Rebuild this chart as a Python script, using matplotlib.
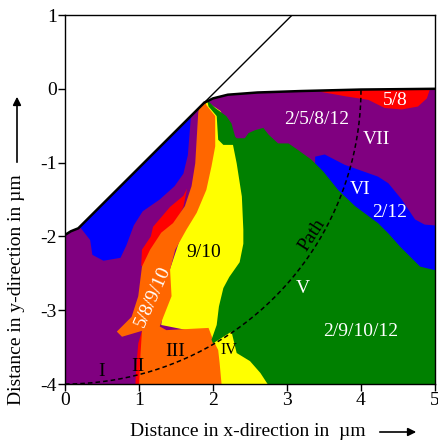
import matplotlib
matplotlib.use("Agg")
import matplotlib.pyplot as plt
from matplotlib.patches import Polygon
import numpy as np

plt.rcParams['font.family'] = ['Liberation Serif', 'DejaVu Serif']
plt.rcParams['axes.unicode_minus'] = False

# ---------------- data (region boundaries in µm) ----------------
domain = [(0, -4.0), (0, -1.98), (0.08, -1.93), (0.18, -1.89), (1.88, -0.19),
          (2.0, -0.13), (2.2, -0.08), (2.6, -0.05), (3.2, -0.03), (4.0, -0.01),
          (5.0, 0.0), (5.0, -4.0)]
top_curve = [(1.88, -0.19), (2.0, -0.13), (2.2, -0.08), (2.6, -0.05),
             (3.2, -0.03), (4.0, -0.01), (5.0, 0.0)]
left_curve = [(0, -1.98), (0.08, -1.93), (0.18, -1.89), (1.88, -0.19)]
mask_line = [(1.88, -0.19), (3.07, 1.0)]

blue_left = [(1.0, 0.5), (1.85, -0.15), (1.80, -0.25), (1.70, -0.40), (1.66, -0.90),
             (1.60, -1.15), (1.48, -1.32), (1.28, -1.50), (1.05, -1.66), (0.93, -1.85),
             (0.83, -2.12), (0.75, -2.29), (0.52, -2.33), (0.37, -2.25), (0.34, -2.05),
             (0.20, -1.87), (0.10, -1.80), (-0.5, -1.5)]
red_left_a = [(1.65, -1.35), (1.60, -1.45), (1.42, -1.60), (1.19, -1.87), (1.16, -2.0),
              (1.04, -2.18), (1.03, -2.40), (1.2, -2.40), (1.6, -1.6)]
red_left_b = [(1.04, -3.28), (0.99, -3.45), (0.96, -3.80), (0.95, -4.05),
              (1.10, -4.05), (1.10, -3.28)]
yellow = [(1.88, -0.15), (2.10, -0.30), (2.45, -1.0), (2.45, -2.3), (2.30, -3.30),
          (2.90, -4.05), (2.0, -4.05), (1.8, -3.3), (1.30, -3.20), (1.40, -2.5),
          (1.60, -1.9), (1.85, -1.3), (1.85, -0.3)]
orange = [(1.84, -0.10), (1.82, -0.20), (1.80, -0.33), (1.76, -1.01), (1.71, -1.32),
          (1.62, -1.59), (1.46, -1.82), (1.30, -1.95), (1.15, -2.18), (1.04, -2.41),
          (0.99, -2.81), (0.90, -3.09), (0.70, -3.29), (0.77, -3.36), (1.04, -3.28),
          (1.02, -3.60), (1.00, -4.05), (2.12, -4.05), (2.09, -3.72), (2.07, -3.54),
          (2.00, -3.40), (1.94, -3.24), (1.37, -3.27), (1.28, -3.22), (1.33, -3.09),
          (1.44, -2.81), (1.42, -2.45), (1.49, -2.18), (1.64, -1.91), (1.78, -1.68),
          (1.91, -1.37), (1.98, -1.05), (2.03, -0.78), (2.03, -0.37), (1.91, -0.22),
          (1.88, -0.10)]
blue_right = [(3.38, -0.92), (3.51, -0.89), (3.78, -1.03), (4.23, -1.19), (4.37, -1.28),
              (4.55, -1.50), (4.73, -1.77), (4.86, -1.84), (5.1, -1.86), (5.1, -3.0),
              (4.0, -3.0), (3.40, -1.30), (3.38, -1.10)]
green = [(1.92, -0.15), (2.03, -0.26), (2.18, -0.37), (2.25, -0.47), (2.30, -0.65),
         (2.32, -0.67), (2.43, -0.67), (2.48, -0.60), (2.57, -0.56), (2.68, -0.53),
         (2.75, -0.62), (2.88, -0.74), (3.02, -0.74), (3.15, -0.83), (3.33, -0.96),
         (3.49, -1.12), (3.69, -1.37), (3.92, -1.59), (4.23, -1.82), (4.37, -1.96),
         (4.53, -2.14), (4.80, -2.41), (5.05, -2.47), (5.05, -4.05), (2.77, -4.05),
         (2.64, -3.85), (2.50, -3.69), (2.32, -3.58), (2.25, -3.29), (2.00, -3.45),
         (1.98, -3.40), (2.05, -3.20), (2.08, -2.95), (2.14, -2.70), (2.22, -2.55),
         (2.36, -2.35), (2.41, -2.10), (2.41, -1.91), (2.39, -1.46), (2.32, -1.01),
         (2.27, -0.76), (2.14, -0.76), (2.07, -0.69), (2.05, -0.37), (1.94, -0.24)]
red_top = [(3.45, 0.2), (3.45, -0.04), (3.78, -0.10), (4.10, -0.15), (4.32, -0.26),
           (4.55, -0.28), (4.77, -0.24), (4.89, -0.13), (4.93, -0.01), (4.93, 0.2)]

colors = {'purple': '#800080', 'blue': '#0000FF', 'red': '#FF0000',
          'orange': '#FF6600', 'yellow': '#FFFF00', 'green': '#008000'}

labels = [  # text, x, y, color, size, rotation
    ("5/8", 4.46, -0.16, 'white', 14, 0),
    ("2/5/8/12", 3.40, -0.42, 'white', 14, 0),
    ("VII", 4.21, -0.69, 'white', 14, 0),
    ("VI", 3.99, -1.36, 'white', 14, 0),
    ("2/12", 4.39, -1.68, 'white', 14, 0),
    ("9/10", 1.87, -2.22, 'black', 14, 0),
    ("5/8/9/10", 1.19, -2.81, 'white', 14, 66),
    ("Path", 3.34, -1.98, 'black', 14, 57),
    ("V", 3.22, -2.70, 'white', 14, 0),
    ("2/9/10/12", 3.99, -3.29, 'white', 14, 0),
    ("III", 1.49, -3.56, 'black', 14, 0),
    ("IV", 2.21, -3.54, 'black', 11.5, 0),
    ("II", 0.99, -3.76, 'black', 14, 0),
    ("I", 0.50, -3.83, 'black', 14, 0),
]

path_radius = 4.0
x_ticks = [0, 1, 2, 3, 4, 5]
y_ticks = [-4, -3, -2, -1, 0, 1]

# ---------------- figure ----------------
fig = plt.figure(figsize=(4.38, 4.40), dpi=100)
ax = fig.add_axes([65 / 438, 56 / 440, 370 / 438, 369 / 440])
ax.set_xlim(0, 5)
ax.set_ylim(-4, 1)

dom = Polygon(domain, closed=True, facecolor=colors['purple'], edgecolor='none', zorder=1)
ax.add_patch(dom)

layers = [(blue_left, 'blue'), (red_left_a, 'red'), (red_left_b, 'red'),
          (yellow, 'yellow'), (orange, 'orange'), (blue_right, 'blue'),
          (green, 'green'), (red_top, 'red')]
for i, (pts, c) in enumerate(layers):
    p = Polygon(pts, closed=True, facecolor=colors[c], edgecolor='none', zorder=2 + i * 0.01)
    ax.add_patch(p)
    p.set_clip_path(dom)

tx, ty = zip(*top_curve)
ax.plot(tx, ty, color='black', lw=1.8, zorder=5, solid_capstyle='round')
lx, ly = zip(*left_curve)
ax.plot(lx, ly, color='black', lw=1.8, zorder=5, solid_capstyle='round')
mx, my = zip(*mask_line)
ax.plot(mx, my, color='black', lw=1.0, zorder=5)

th = np.linspace(-np.pi / 2, 0, 200)
ax.plot(path_radius * np.cos(th), path_radius * np.sin(th), color='black',
        lw=1.1, ls=(0, (3, 2)), zorder=6)

for t, x, y, c, s, r in labels:
    ax.text(x, y, t, color=c, fontsize=s, rotation=r, ha='center', va='center', zorder=7)

ax.set_xticks(x_ticks)
ax.set_yticks(y_ticks)
ax.tick_params(direction='out', length=5, width=1, labelsize=14, pad=1)
for sp in ax.spines.values():
    sp.set_linewidth(1.0)

fig.text(248 / 438, 1 - 431 / 440, "Distance in x-direction in  µm", fontsize=14,
         ha='center', va='center')
fig.text(17 / 438, 1 - 290 / 440, "Distance in y-direction in µm", fontsize=14,
         ha='center', va='center', rotation=90)
fig.patches.append(matplotlib.patches.FancyArrowPatch(
    (377 / 438, 1 - 432 / 440), (419 / 438, 1 - 432 / 440), transform=fig.transFigure,
    arrowstyle='-|>', mutation_scale=12, lw=1.2, color='black'))
fig.patches.append(matplotlib.patches.FancyArrowPatch(
    (17 / 438, 1 - 165 / 440), (17 / 438, 1 - 94 / 440), transform=fig.transFigure,
    arrowstyle='-|>', mutation_scale=12, lw=1.2, color='black'))

fig.savefig("out.png", dpi=100)
